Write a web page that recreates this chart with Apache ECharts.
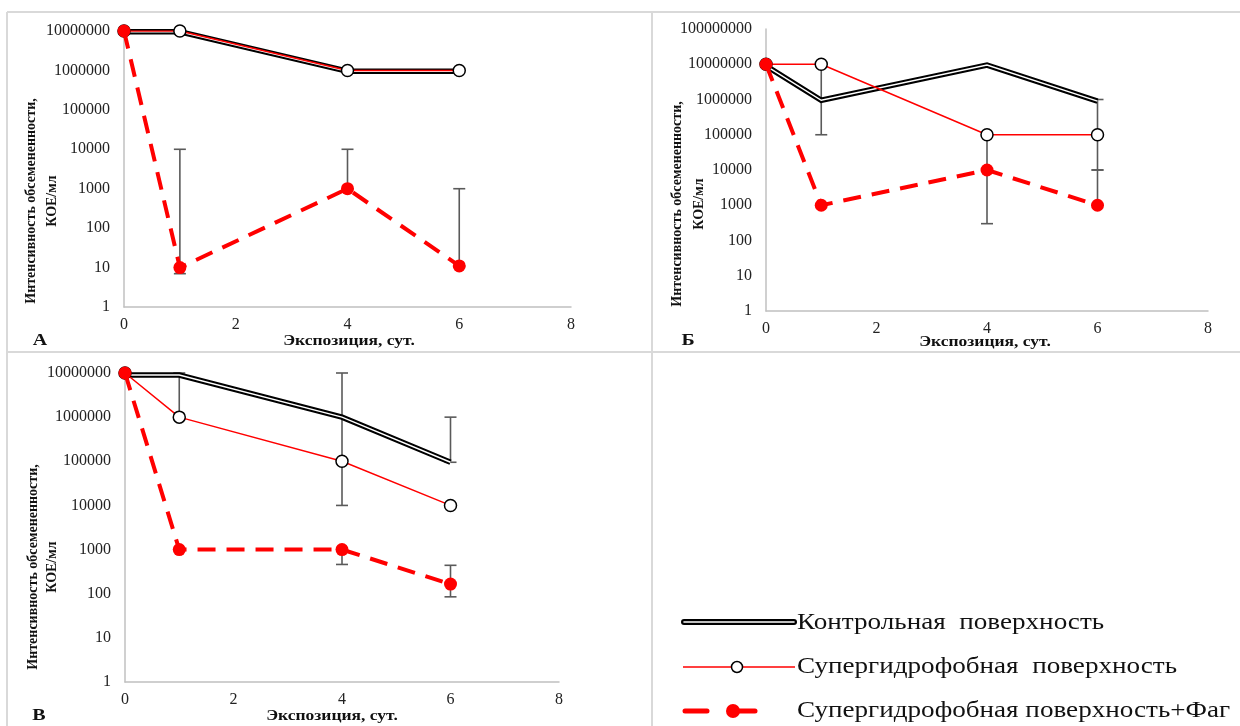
<!DOCTYPE html>
<html>
<head>
<meta charset="utf-8">
<script src="https://cdn.jsdelivr.net/npm/echarts@6/dist/echarts.min.js"></script>
<style>
html,body{margin:0;padding:0;background:#fff;}
#c{width:1240px;height:726px;}
</style>
</head>
<body>
<div id="c"></div>
<script>
// ---- data ----
const days = [0, 1, 4, 6];
const xTicks = [0, 2, 4, 6, 8];

const controlA = [9.6e6, 9.6e6, 9.6e5, 9.6e5];
const superA   = [1e7, 1e7, 1e6, 1e6];
const phageA   = [1e7, 10, 1000, 11];
const errA     = [[1, 7, 10000], [4, 1000, 10000], [6, 11, 1000]];

const controlB = [9e6, 9.5e5, 9.5e6, 9e5];
const superB   = [1e7, 1e7, 1e5, 1e5];
const phageB   = [1e7, 1000, 10000, 1000];
const errB     = [[1, 1e5, 1e7], [4, 300, 1e5], [6, 1e4, 1e6], [6, 1000, 1e4]];

const controlV = [9e6, 9e6, 1e6, 9.5e4];
const superV   = [1e7, 1e6, 1e5, 1e4];
const phageV   = [1e7, 1000, 1000, 165];
const errV     = [[1, 1e6, 1e7], [4, 1e4, 1e7], [4, 460, 1000], [6, 9.5e4, 1e6], [6, 85, 440]];

const legendNames = ['Контрольная  поверхность', 'Супергидрофобная  поверхность', 'Супергидрофобная поверхность+Фаг'];
const yTitle1 = 'Интенсивность обсемененности,';
const yTitle2 = 'КОЕ/мл';
const xTitle = 'Экспозиция, сут.';
const panelLabels = ['А', 'Б', 'В'];

// ---- helpers ----
const SERIF = '"Liberation Serif", "Times New Roman", serif';
const pair = (xs, ys) => xs.map((x, i) => [x, ys[i]]);

function xAxisCfg(gi) {
  return {
    type: 'value', gridIndex: gi, min: 0, max: 8, interval: 2,
    axisLine: {show: true, onZero: false, lineStyle: {color: '#c0c0c0', width: 1.5}},
    axisTick: {show: false}, splitLine: {show: false},
    axisLabel: {margin: 10, color: '#222', fontFamily: SERIF, fontSize: 16,
      formatter: v => xTicks.includes(v) ? String(v) : ''}
  };
}
function yAxisCfg(gi, max) {
  return {
    type: 'log', logBase: 10, gridIndex: gi, min: 1, max: max, interval: 1,
    axisLine: {show: true, lineStyle: {color: '#c0c0c0', width: 1.5}},
    axisTick: {show: false}, splitLine: {show: false},
    axisLabel: {margin: 14, color: '#222', fontFamily: SERIF, fontSize: 16,
      formatter: v => String(Math.round(v))}
  };
}
function errSeries(gi, data) {
  return {
    type: 'custom', xAxisIndex: gi, yAxisIndex: gi, z: 1, silent: true,
    data: data,
    renderItem: function (params, api) {
      const x = api.value(0), lo = api.value(1), hi = api.value(2);
      const p1 = api.coord([x, lo]), p2 = api.coord([x, hi]);
      const w = 6;
      const st = {stroke: '#5a5a5a', lineWidth: 1.6};
      return {type: 'group', children: [
        {type: 'line', shape: {x1: p1[0], y1: p1[1], x2: p2[0], y2: p2[1]}, style: st},
        {type: 'line', shape: {x1: p1[0] - w, y1: p1[1], x2: p1[0] + w, y2: p1[1]}, style: st},
        {type: 'line', shape: {x1: p2[0] - w, y1: p2[1], x2: p2[0] + w, y2: p2[1]}, style: st}
      ]};
    }
  };
}
function panelSeries(gi, ctrl, sup, ph, err) {
  return [
    errSeries(gi, err),
    {name: legendNames[0], type: 'line', xAxisIndex: gi, yAxisIndex: gi, z: 2, data: pair(days, ctrl),
      showSymbol: false, symbol: 'none', lineStyle: {color: '#000', width: 5.5, join: 'miter'}, silent: true},
    {type: 'line', xAxisIndex: gi, yAxisIndex: gi, z: 3, data: pair(days, ctrl),
      showSymbol: false, symbol: 'none', lineStyle: {color: '#fff', width: 1.5, join: 'miter'}, silent: true},
    {name: legendNames[1], type: 'line', xAxisIndex: gi, yAxisIndex: gi, z: 4, data: pair(days, sup),
      symbol: 'circle', symbolSize: 12, lineStyle: {color: '#ff0000', width: 1.5},
      itemStyle: {color: '#fff', borderColor: '#000', borderWidth: 1.5}, silent: true},
    {name: legendNames[2], type: 'line', xAxisIndex: gi, yAxisIndex: gi, z: 5, data: pair(days, ph),
      symbol: 'circle', symbolSize: 13, lineStyle: {color: '#ff0000', width: 4, type: [18, 11]},
      itemStyle: {color: '#ff0000', borderWidth: 0}, silent: true}
  ];
}

const borderStyle = {stroke: '#d9d9d9', lineWidth: 2};
function gline(x1, y1, x2, y2, style) {
  return {type: 'line', shape: {x1, y1, x2, y2}, style: style, silent: true};
}
function gtext(x, y, text, font, opts, align) {
  return Object.assign({type: 'text', x: x, y: y, silent: true,
    style: {text: text, font: font, fill: '#111', textAlign: align || 'center', textVerticalAlign: 'middle'}}, opts || {});
}
const boldTitle = 'bold 14px ' + SERIF;
const boldLabel = 'bold 16px ' + SERIF;
const legFont = '24px ' + SERIF;
const xs = {scaleX: 1.25};
const ls = {scaleX: 1.13};

const graphics = [
  gline(7, 12, 1240, 12, borderStyle),
  gline(7, 12, 7, 726, borderStyle),
  gline(652, 12, 652, 726, borderStyle),
  gline(7, 352, 1240, 352, borderStyle),
  // y-axis titles
  gtext(31, 201, yTitle1, boldTitle, {rotation: Math.PI / 2}),
  gtext(52, 201, yTitle2, boldTitle, {rotation: Math.PI / 2}),
  gtext(677, 204, yTitle1, boldTitle, {rotation: Math.PI / 2}),
  gtext(699, 204, yTitle2, boldTitle, {rotation: Math.PI / 2}),
  gtext(33, 567, yTitle1, boldTitle, {rotation: Math.PI / 2}),
  gtext(52, 567, yTitle2, boldTitle, {rotation: Math.PI / 2}),
  // x-axis titles
  gtext(349, 341, xTitle, boldTitle, xs),
  gtext(985, 342, xTitle, boldTitle, xs),
  gtext(332, 716, xTitle, boldTitle, xs),
  // panel letters
  gtext(40, 341, panelLabels[0], boldLabel, xs),
  gtext(688, 341, panelLabels[1], boldLabel, xs),
  gtext(39, 716, panelLabels[2], boldLabel, xs),
  // legend
  gline(684, 622, 794, 622, {stroke: '#000', lineWidth: 6, lineCap: 'round'}),
  gline(684, 622, 794, 622, {stroke: '#fff', lineWidth: 1.6, lineCap: 'round'}),
  gline(683, 667, 795, 667, {stroke: '#ff0000', lineWidth: 1.5}),
  {type: 'circle', shape: {cx: 737, cy: 667, r: 5.5}, style: {fill: '#fff', stroke: '#000', lineWidth: 1.5}, silent: true},
  gline(685, 711, 707, 711, {stroke: '#ff0000', lineWidth: 5, lineCap: 'round'}),
  gline(733, 711, 755, 711, {stroke: '#ff0000', lineWidth: 5, lineCap: 'round'}),
  {type: 'circle', shape: {cx: 733, cy: 711, r: 7}, style: {fill: '#ff0000'}, silent: true},
  gtext(797, 623, legendNames[0], legFont, ls, 'left'),
  gtext(797, 667, legendNames[1], legFont, ls, 'left'),
  gtext(797, 711, legendNames[2], legFont, ls, 'left')
];

const chart = echarts.init(document.getElementById('c'), null, {renderer: 'canvas'});
chart.setOption({
  animation: false,
  backgroundColor: '#fff',
  grid: [
    {left: 124, top: 31, width: 447, height: 276},
    {left: 766, top: 29, width: 442, height: 282},
    {left: 125, top: 373, width: 434, height: 309}
  ],
  xAxis: [xAxisCfg(0), xAxisCfg(1), xAxisCfg(2)],
  yAxis: [yAxisCfg(0, 1e7), yAxisCfg(1, 1e8), yAxisCfg(2, 1e7)],
  series: [].concat(
    panelSeries(0, controlA, superA, phageA, errA),
    panelSeries(1, controlB, superB, phageB, errB),
    panelSeries(2, controlV, superV, phageV, errV)
  ),
  graphic: graphics
});
</script>
</body>
</html>
